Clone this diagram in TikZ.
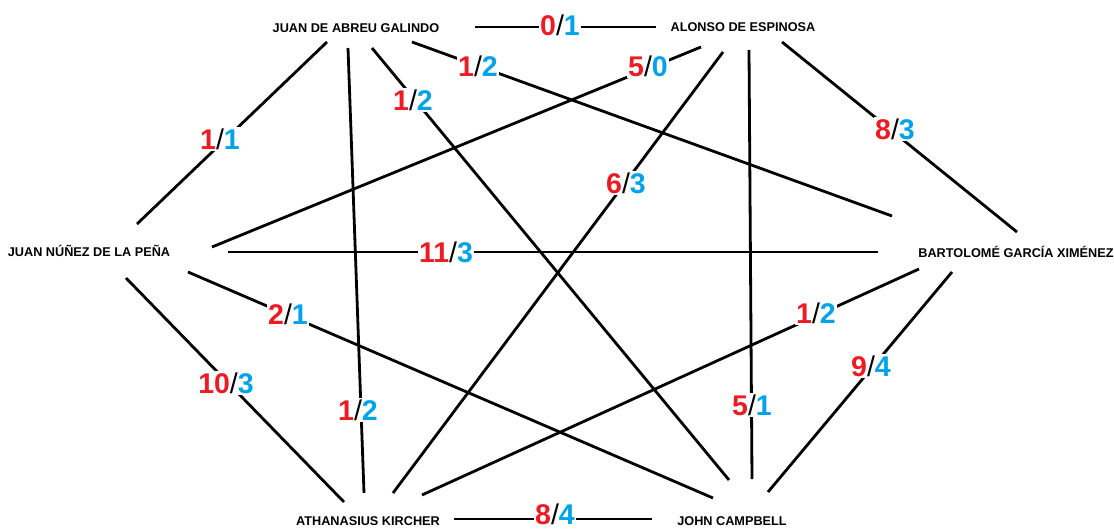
\documentclass[tikz,border=0pt]{standalone}
\usepackage{fontspec}
\setmainfont{Liberation Sans}
\definecolor{lred}{HTML}{ED1C24}
\definecolor{lblue}{HTML}{00A2E8}
\newcommand{\scoretxt}[2]{{\color{lred}#1}{\mdseries/}{\color{lblue}#2}}
\begin{document}
\begin{tikzpicture}[x=1pt,y=-1pt,
  person/.style={inner sep=0pt,font=\fontsize{12.7}{15}\selectfont\bfseries,text=black},
  score/.style={inner sep=1.5pt,fill=white,font=\fontsize{28.5}{30}\selectfont\bfseries},
  link/.style={line width=2.8pt,black}]
\useasboundingbox (0,0) rectangle (1114,530);
\fill[white] (0,0) rectangle (1114,530);
% people
\node[person] (J) at (356,28) {JUAN DE ABREU GALINDO};
\node[person] (A) at (743,27) {ALONSO DE ESPINOSA};
\node[person] (N) at (89,251) {JUAN NÚÑEZ DE LA PEÑA};
\node[person] (B) at (1016,252) {BARTOLOMÉ GARCÍA XIMÉNEZ};
\node[person] (K) at (368,521) {ATHANASIUS KIRCHER};
\node[person] (C) at (732,521) {JOHN CAMPBELL};
% links
\draw[link] ([shift={(119,-1)}]J.center) -- ([shift={(-87,0)}]A.center);
\draw[link] ([shift={(-29,14)}]J.center) -- ([shift={(48,-27)}]N.center);
\draw[link] ([shift={(-8,20)}]J.center) -- ([shift={(-4,-28)}]K.center);
\draw[link] ([shift={(16,20)}]J.center) -- ([shift={(-3,-41)}]C.center);
\draw[link] ([shift={(56,14)}]J.center) -- ([shift={(-124,-36)}]B.center);
\draw[link] ([shift={(-42,20)}]A.center) -- ([shift={(123,-4)}]N.center);
\draw[link] ([shift={(-20,25)}]A.center) -- ([shift={(25,-28)}]K.center);
\draw[link] ([shift={(6,23)}]A.center) -- ([shift={(20,-42)}]C.center);
\draw[link] ([shift={(39,15)}]A.center) -- ([shift={(1,-20)}]B.center);
\draw[link] ([shift={(139,1)}]N.center) -- ([shift={(-138,0)}]B.center);
\draw[link] ([shift={(99,21)}]N.center) -- ([shift={(-19,-23)}]C.center);
\draw[link] ([shift={(37,27)}]N.center) -- ([shift={(-24,-19)}]K.center);
\draw[link] ([shift={(-97,17)}]B.center) -- ([shift={(54,-26)}]K.center);
\draw[link] ([shift={(-64,20)}]B.center) -- ([shift={(36,-29)}]C.center);
\draw[link] ([shift={(86,-2)}]K.center) -- ([shift={(-80,-2)}]C.center);
% scores
\node[score] (sJA) at (560,25) {\scoretxt{0}{1}};
\node[score] (sJB) at (478,66) {\scoretxt{1}{2}};
\node[score] (sJC) at (413,100) {\scoretxt{1}{2}};
\node[score] (sAN) at (648,66) {\scoretxt{5}{0}};
\node[score] (sJN) at (220,139) {\scoretxt{1}{1}};
\node[score] (sAB) at (895,129) {\scoretxt{8}{3}};
\node[score] (sAK) at (626,183) {\scoretxt{6}{3}};
\node[score] (sNB) at (446,252) {\scoretxt{11}{3}};
\node[score] (sNC) at (288,314) {\scoretxt{2}{1}};
\node[score] (sBK) at (816,313) {\scoretxt{1}{2}};
\node[score] (sBC) at (871,366) {\scoretxt{9}{4}};
\node[score] (sNK) at (226,383) {\scoretxt{10}{3}};
\node[score] (sJK) at (358,410) {\scoretxt{1}{2}};
\node[score] (sAC) at (752,405) {\scoretxt{5}{1}};
\node[score,inner ysep=0pt,text depth=0pt] (sKC) at (555,514) {\scoretxt{8}{4}};
\end{tikzpicture}
\end{document}
